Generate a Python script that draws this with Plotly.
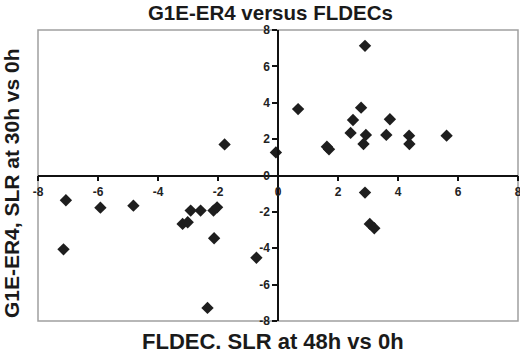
import plotly.graph_objects as go

# FLDEC SLR (x) vs G1E-ER4 SLR (y)
fldec_slr = [-1.78, -0.07, 2.90, 0.67, 2.77, 2.50, 3.73, 2.42, 2.93, 2.85, 3.61, 4.37, 4.38, 5.62,
             1.63, 1.70, 2.90, 3.06, 3.21,
             -7.07, -7.15, -5.92, -4.82, -3.18, -3.01, -2.91, -2.58, -2.15, -2.03, -2.13, -0.72, -2.35]
g1e_slr = [1.71, 1.27, 7.13, 3.65, 3.73, 3.05, 3.09, 2.34, 2.23, 1.73, 2.23, 2.19, 1.73, 2.19,
           1.58, 1.44, -0.94, -2.66, -2.90,
           -1.36, -4.06, -1.77, -1.66, -2.66, -2.57, -1.93, -1.93, -1.93, -1.75, -3.45, -4.52, -7.28]

tick_vals = [-8, -6, -4, -2, 0, 2, 4, 6, 8]
tick_text = ["-8", "-6", "-4", "-2", "0", "2", "4", "6", "8"]

title_text = "G1E-ER4 versus FLDECs"
x_title = "FLDEC. SLR at 48h vs 0h"
y_title = "G1E-ER4, SLR at 30h vs 0h"

fig = go.Figure()
fig.add_trace(go.Scatter(
    x=fldec_slr, y=g1e_slr, mode="markers",
    marker=dict(symbol="diamond", size=9.5, color="#1e1e1e", line=dict(width=0)),
    showlegend=False, cliponaxis=False,
))

font_family = "Liberation Sans, Arial, sans-serif"
tickfont = dict(family=font_family, size=12, color="#222222")
axis_common = dict(range=[-8, 8], tickvals=tick_vals, ticktext=["<b>%s</b>" % t for t in tick_text],
                   anchor="free", position=0.5, showline=True, linecolor="#111111", linewidth=1.5,
                   ticks="outside", ticklen=5, tickwidth=1.5, tickcolor="#111111", showgrid=False,
                   zeroline=False, tickfont=tickfont, fixedrange=True, automargin=False,
                   ticklabeloverflow="allow")
fig.update_layout(
    width=520, height=353,
    margin=dict(l=38, r=2, t=30, b=32, autoexpand=False),
    paper_bgcolor="white", plot_bgcolor="white",
    title=dict(text="<b>" + title_text + "</b>", x=0.52, xanchor="center", y=0.965, yanchor="middle",
               font=dict(family=font_family, size=20.5, color="#1a1a1a")),
    xaxis=axis_common,
    yaxis=axis_common,
    shapes=[dict(type="rect", xref="paper", yref="paper", x0=0, x1=1, y0=0, y1=1,
                 line=dict(color="#a0a0a0", width=1.5), layer="below")],
    annotations=[
        dict(text="<b>" + x_title + "</b>", xref="paper", yref="paper", x=0.49, y=-0.072,
             xanchor="center", yanchor="middle", showarrow=False,
             font=dict(family=font_family, size=22, color="#1a1a1a")),
        dict(text="<b>" + y_title + "</b>", xref="paper", yref="paper", x=-0.055, y=0.4725,
             xanchor="center", yanchor="middle", textangle=-90, showarrow=False,
             font=dict(family=font_family, size=21, color="#1a1a1a")),
    ],
)

fig.write_html("out.html", config={"displayModeBar": False},
               post_script="document.body.style.margin='0';document.body.style.overflow='hidden';")
